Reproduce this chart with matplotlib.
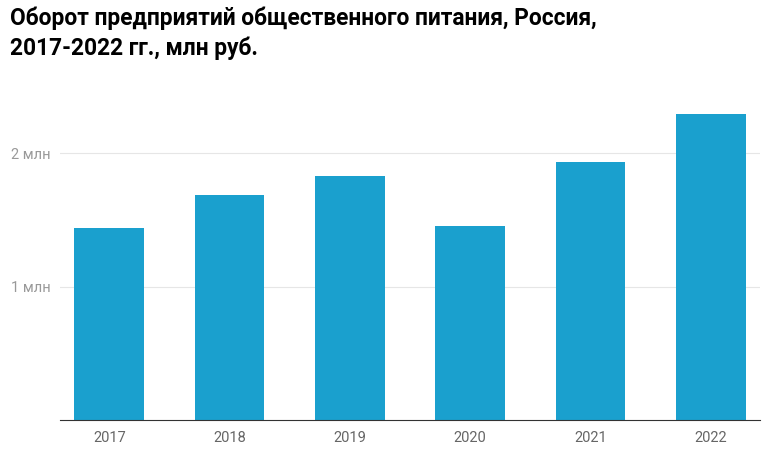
import matplotlib
matplotlib.use("Agg")
import matplotlib.pyplot as plt

years = ["2017", "2018", "2019", "2020", "2021", "2022"]
turnover_mln = [1.438, 1.685, 1.828, 1.453, 1.933, 2.292]
ytick_vals = [1, 2]
ytick_labels = ["1 млн", "2 млн"]

plt.rcParams["font.family"] = "Roboto"
fig = plt.figure(figsize=(7.72, 4.58), dpi=100)
ax = fig.add_axes([60/772, 1-420/458, 700/772, 320/458])
x = list(range(len(years)))
ax.bar(x, turnover_mln, width=0.58, color="#1aa0ce", zorder=2)
ax.set_xlim(-0.41, 5.41)
ax.set_ylim(0, 2.4)
ax.set_xticks(x)
ax.set_xticklabels(years, fontsize=10.5, color="#666666")
ax.set_yticks(ytick_vals)
ax.set_yticklabels(ytick_labels, fontsize=10.5, color="#999999")
ax.grid(axis="y", color="#e6e6e6", linewidth=0.8, zorder=0)
for s in ["top", "right", "left"]:
    ax.spines[s].set_visible(False)
ax.spines["bottom"].set_color("#333333")
ax.tick_params(axis="both", length=0)
ax.tick_params(axis="x", pad=8)
ax.tick_params(axis="y", pad=7)
fig.text(10/772, 1-7/458, "Оборот предприятий общественного питания, Россия,\n2017-2022 гг., млн руб.",
         fontsize=16.4, fontweight="bold", va="top", ha="left", linespacing=1.3)
fig.savefig("out.png", dpi=100)
